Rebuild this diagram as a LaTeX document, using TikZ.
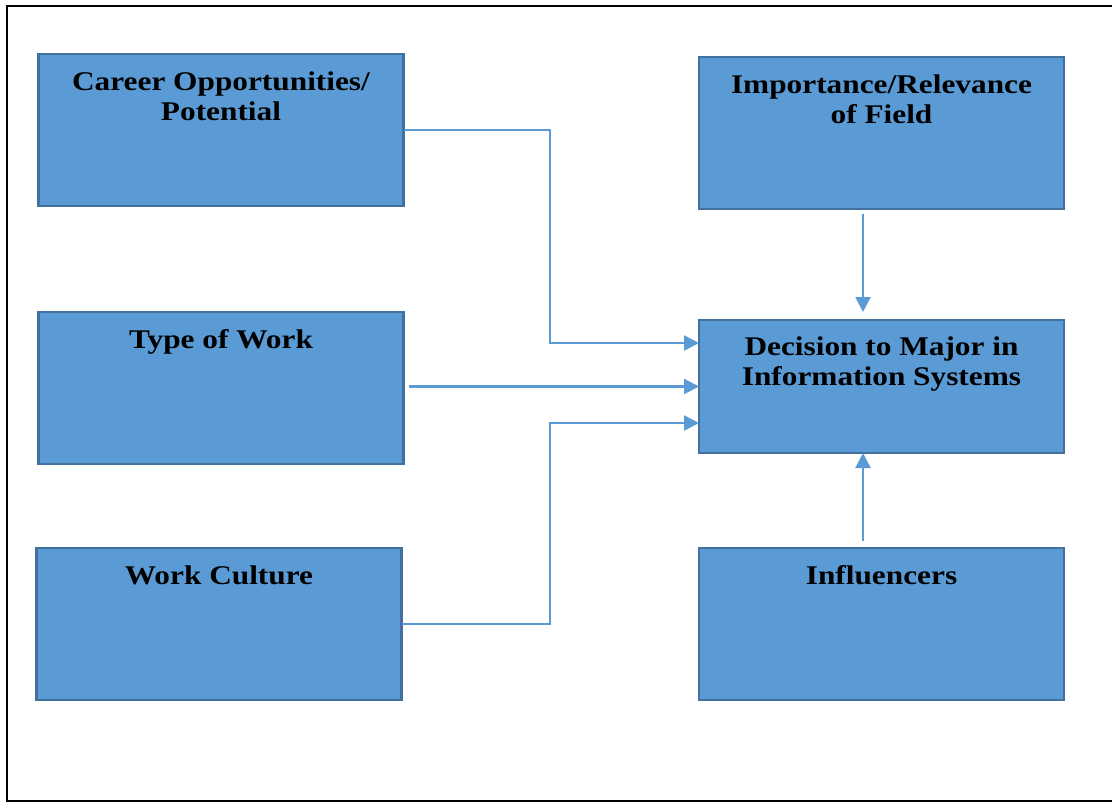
\documentclass[tikz,border=0pt]{standalone}
\usepackage{fontspec}
\setmainfont{Liberation Serif}[FakeStretch=1.16]
\usetikzlibrary{arrows.meta,calc}
\definecolor{boxfill}{HTML}{5B9BD5}
\definecolor{boxedge}{HTML}{41719C}
\begin{document}
\begin{tikzpicture}[x=1pt,y=-1pt,
  factor/.style={draw=boxedge, line width=2.5pt, fill=boxfill,
    minimum width=365pt, minimum height=152pt, inner sep=0pt, outer sep=0pt},
  caption/.style={anchor=north, inner sep=0pt, align=center,
    font=\bfseries\fontsize{27}{30}\selectfont},
  link/.style={draw=boxfill, line width=2.2pt, -{Triangle[length=15pt,width=15pt]}},
]
\useasboundingbox (0,0) rectangle (1112,803);
% page frame (its right side runs past the page edge)
\draw[line width=2pt] (1125,6) -- (7,6) -- (7,801) -- (1125,801);

% factor boxes
\node[factor] (career)   at (221,130)   {};
\node[factor] (typew)    at (221,388)   {};
\node[factor] (culture)  at (219,624)   {};
\node[factor] (import)   at (881.5,133) {};
\node[factor, minimum height=133pt] (dec) at (881.5,386.5) {};
\node[factor] (influ)    at (881.5,624) {};

% box captions
\node[caption] (careerT)  at ($(career.north)+(0,17.5)$)  {Career Opportunities/\\Potential};
\node[caption] (typewT)   at ($(typew.north)+(0,17.5)$)   {Type of Work};
\node[caption] (cultureT) at ($(culture.north)+(0,17.5)$) {Work Culture};
\node[caption] (importT)  at ($(import.north)+(0,17.5)$)  {Importance/Relevance\\of Field};
\node[caption] (decT)     at ($(dec.north)+(0,16.5)$)     {Decision to Major in\\Information Systems};
\node[caption] (influT)   at ($(influ.north)+(0,17.5)$)   {Influencers};

% connector helpers
\coordinate (bend)  at (550,0);
\coordinate (spine) at (863,0);
\coordinate (inA) at ($(dec.west)+(0,-43.5)$);
\coordinate (inC) at ($(dec.west)+(0,36.5)$);

% connectors
\draw[link] (career.east) -| (bend |- inA) -- (inA);
\draw[link, shorten <=5pt] (typew.east |- dec.west) -- (dec.west);
\draw[link] (culture.east) -| (bend |- inC) -- (inC);
\draw[link, shorten <=5pt, shorten >=8pt] (spine |- import.south) -- (spine |- dec.north);
\draw[link, shorten <=7pt] (spine |- influ.north) -- (spine |- dec.south);
\end{tikzpicture}
\end{document}
